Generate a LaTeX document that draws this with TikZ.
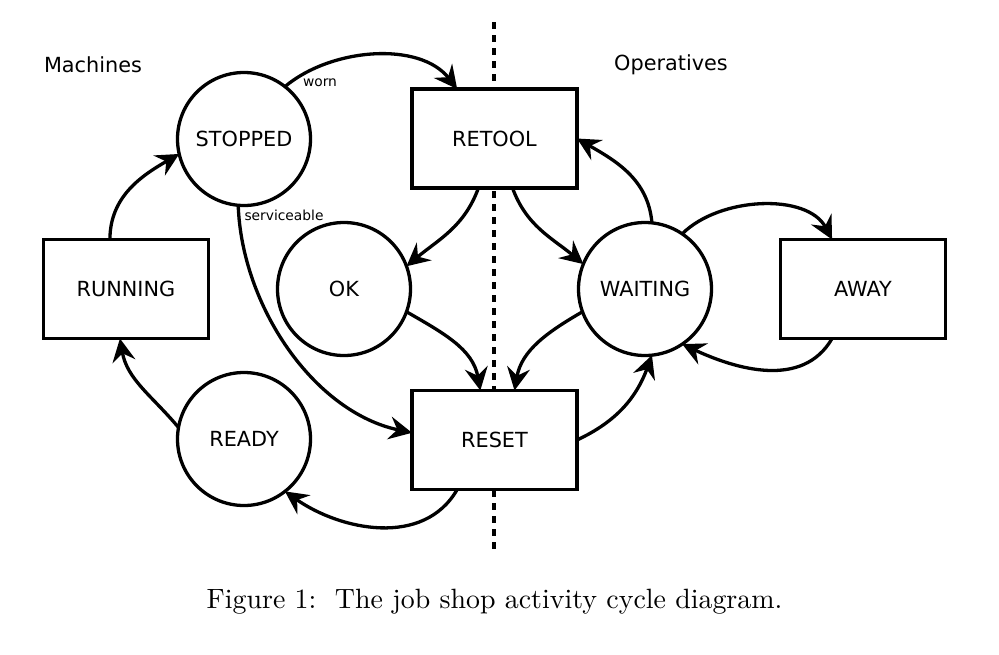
\documentclass[tikz,border=0pt]{standalone}
\usepackage{fontspec}
\newfontfamily\dv{DejaVu Sans}
\newfontfamily\capfont{lmroman10-regular.otf}
\usetikzlibrary{arrows.meta}
\begin{document}
\begin{tikzpicture}[x=1pt,y=-1pt,
  every node/.style={inner sep=0pt, outer sep=0pt},
  state/.style={circle, draw, line width=3.3pt, fill=white, minimum size=133pt, font=\dv\fontsize{20.8}{24}\selectfont},
  act/.style={rectangle, draw, line width=3.4pt, fill=white, minimum width=165pt, minimum height=99pt, font=\dv\fontsize{20.8}{24}\selectfont},
  head/.style={font=\dv\fontsize{20.8}{24}\selectfont},
  lbl/.style={font=\dv\fontsize{13.8}{16}\selectfont},
  conn/.style={line width=3.3pt, -{Stealth[length=23pt,width=23pt,inset=8pt]}},
  divider/.style={line width=3.3pt, dash pattern=on 7pt off 6pt}]
\useasboundingbox (0,0) rectangle (999,654);
\coordinate (dtop) at (494,22);
\coordinate (dbot) at (494,550);
\draw[divider] (dtop) -- (dbot);

\node[head] (mach) at (93,65) {Machines};
\node[head] (oper) at (671,65) {Operatives};

\node[state] (stopped) at (244,139) {STOPPED};
\node[state] (ok) at (344,289) {OK};
\node[state] (waiting) at (645,289) {WAITING};
\node[state] (ready) at (244,439) {READY};
\node[act] (retool) at (494.5,138.5) {RETOOL};
\node[act] (reset) at (494.5,440) {RESET};
\node[act] (running) at (126,289) {RUNNING};
\node[act] (away) at (863,289) {AWAY};

\node[lbl] (worn) at (320,83) {worn};
\node[lbl] (serv) at (284,215) {serviceable};

\draw[conn] (running.108) to[out=90,in=210] (stopped.193);
\draw[conn] (stopped.52) to[out=40,in=128,looseness=0.9] (retool.127);
\draw[conn] (stopped.265) to[out=272,in=168,looseness=0.9] (reset.175);
\draw[conn] (retool.252) to[out=250,in=40] (ok.20);
\draw[conn] (retool.290) to[out=290,in=140] (waiting.158);
\draw[conn] (ok.340) to[out=-30,in=100] (reset.106);
\draw[conn] (waiting.200) to[out=210,in=80] (reset.68);
\draw[conn] (reset.east) to[out=25,in=250] (waiting.276);
\draw[conn] (reset.233) to[out=240,in=-35] (ready.308);
\draw[conn] (ready.170) to[out=130,in=-80] (running.263);
\draw[conn] (waiting.84) to[out=95,in=-30] (retool.east);
\draw[conn] (waiting.56) to[out=45,in=118,looseness=0.9] (away.122);
\draw[conn] (away.238) to[out=240,in=-25] (waiting.304);

\node[font=\capfont\fontsize{27.9}{34}\selectfont, anchor=base] (cap) at (494.5,608) {Figure 1:\ \ The job shop activity cycle diagram.};
\end{tikzpicture}
\end{document}
